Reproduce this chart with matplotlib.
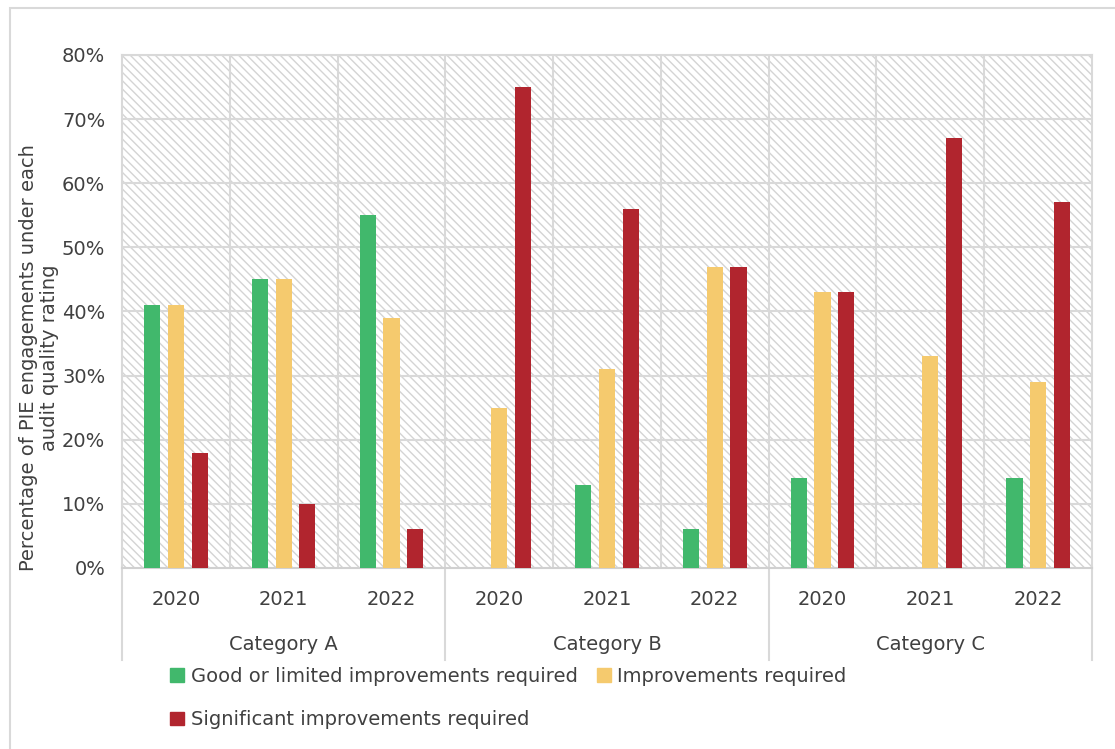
import matplotlib.pyplot as plt
from matplotlib.patches import Rectangle
from matplotlib.lines import Line2D
from matplotlib.transforms import blended_transform_factory
import numpy as np

plt.rcParams['font.family'] = ['DejaVu Sans']
plt.rcParams['hatch.linewidth'] = 1.0

categories = ["Category A", "Category B", "Category C"]
years = ["2020", "2021", "2022"]
series = ["Good or limited improvements required",
          "Improvements required",
          "Significant improvements required"]
good = [41, 45, 55, 0, 13, 6, 14, 0, 14]
improve = [41, 45, 39, 25, 31, 47, 43, 33, 29]
significant = [18, 10, 6, 75, 56, 47, 43, 67, 57]
colors = ["#41b86c", "#f5ca6e", "#b1252e"]

text_col = "#404040"
grid_col = "#d9d9d9"
fs = 14

fig = plt.figure(figsize=(11.15, 7.49), dpi=100)
ax = fig.add_axes([0.1094, 0.2417, 0.87, 0.6849])

# outer chart frame
fig.patches.append(Rectangle((10 / 1115, -0.01), 1.05, (749 - 8) / 749 + 0.01,
                             transform=fig.transFigure, fill=False,
                             edgecolor="#d9d9d9", lw=1.5, zorder=0))

# hatched plot area
ax.patch.set_visible(False)
ax.add_patch(Rectangle((0, 0), 1, 1, transform=ax.transAxes,
                       facecolor="white", edgecolor="#d4d4d4", lw=0,
                       hatch="\\\\\\\\", zorder=0))

x = np.arange(len(good))
w = 0.15
off = 0.22
for vals, c, d, lab in zip([good, improve, significant], colors, [-off, 0, off], series):
    ax.bar(x + d, vals, width=w, color=c, label=lab, zorder=3)

ax.set_xlim(-0.5, len(good) - 0.5)
ax.set_ylim(0, 80)
ax.set_yticks(range(0, 81, 10))
ax.set_yticklabels([f"{v}%" for v in range(0, 81, 10)], fontsize=fs, color=text_col)
ax.tick_params(axis='y', length=0, pad=12)
ax.set_xticks([])

for v in range(10, 81, 10):
    ax.axhline(v, color=grid_col, lw=1.5, zorder=1)
for xv in np.arange(0.5, len(good) - 0.5, 1):
    ax.axvline(xv, color=grid_col, lw=1.5, zorder=1)

for s in ["top", "right", "left"]:
    ax.spines[s].set_color(grid_col)
    ax.spines[s].set_linewidth(1.5)
ax.spines["bottom"].set_color("#d0d0d0")
ax.spines["bottom"].set_linewidth(1.5)

# two-level category axis
trans = blended_transform_factory(ax.transData, ax.transAxes)
for i, yr in enumerate(years * len(categories)):
    ax.text(i, -0.062, yr, transform=trans, ha="center", va="center",
            fontsize=fs, color=text_col)
for j, cat in enumerate(categories):
    ax.text(j * 3 + 1, -0.150, cat, transform=trans, ha="center", va="center",
            fontsize=fs, color=text_col)
for xv in [-0.5, 2.5, 5.5, 8.5]:
    ax.add_line(Line2D([xv, xv], [0, -0.18], transform=trans, color=grid_col,
                       lw=1.5, clip_on=False))

ax.set_ylabel("Percentage of PIE engagements under each\naudit quality rating",
              fontsize=fs, color=text_col, linespacing=1.15)
ax.yaxis.set_label_coords(-0.065, 0.41)

# legend fills column-major, so order the handles to read row by row
handles = [Rectangle((0, 0), 1, 1, color=c) for c in colors]
order = [0, 2, 1]
fig.legend([handles[i] for i in order], [series[i] for i in order],
           loc="upper left", bbox_to_anchor=(0.137, 0.133),
           ncol=2, frameon=False, fontsize=fs, handlelength=0.7, handleheight=0.7,
           handletextpad=0.35, columnspacing=1.0, labelspacing=1.25,
           labelcolor=text_col)

fig.savefig("out.png", dpi=100)
